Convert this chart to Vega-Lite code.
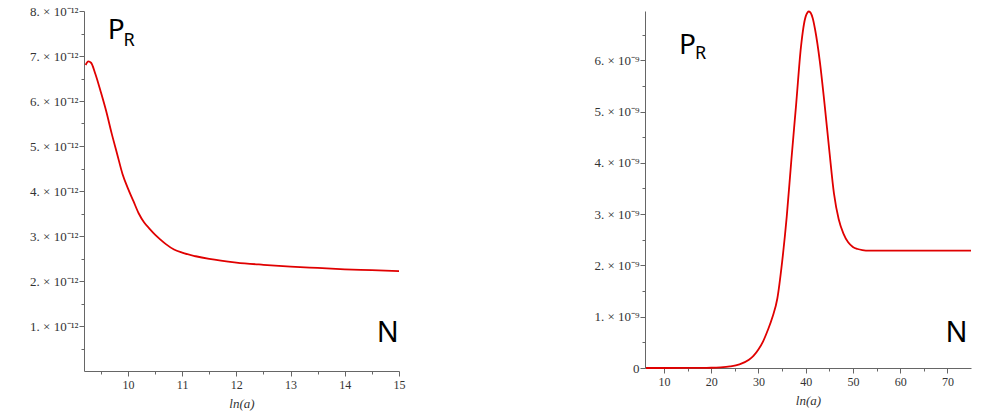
{
  "$schema": "https://vega.github.io/schema/vega-lite/v6.json",
  "background": "white",
  "padding": {"left": 29, "top": 5, "right": 5, "bottom": 5},
  "config": {
    "view": {"stroke": null},
    "axis": {
      "domainColor": "#666",
      "tickColor": "#666",
      "labelColor": "#333",
      "labelFont": "Liberation Serif",
      "labelFontSize": 13,
      "labelOverlap": false,
      "tickCount": 200,
      "titleFont": "Liberation Serif",
      "titleFontStyle": "italic",
      "titleFontWeight": "normal",
      "titleFontSize": 13,
      "titleColor": "#333",
      "grid": false
    },
    "axisX": {"labelFontSize": 12, "labelPadding": 3, "titlePadding": 7}
  },
  "spacing": 188,
  "hconcat": [
    {
      "width": 315,
      "height": 360,
      "layer": [
        {
          "data": {"values": [
            {"lna": 9.22, "P": 6.8e-12}, {"lna": 9.27, "P": 6.88e-12}, {"lna": 9.32, "P": 6.85e-12},
            {"lna": 9.4, "P": 6.6e-12}, {"lna": 9.5, "P": 6.2e-12}, {"lna": 9.6, "P": 5.77e-12},
            {"lna": 9.7, "P": 5.28e-12}, {"lna": 9.8, "P": 4.83e-12}, {"lna": 9.9, "P": 4.38e-12},
            {"lna": 10.0, "P": 4.06e-12}, {"lna": 10.1, "P": 3.78e-12}, {"lna": 10.2, "P": 3.5e-12},
            {"lna": 10.3, "P": 3.3e-12}, {"lna": 10.4, "P": 3.16e-12}, {"lna": 10.5, "P": 3.03e-12},
            {"lna": 10.6, "P": 2.92e-12}, {"lna": 10.7, "P": 2.82e-12}, {"lna": 10.85, "P": 2.7e-12},
            {"lna": 11.0, "P": 2.63e-12}, {"lna": 11.25, "P": 2.55e-12}, {"lna": 11.5, "P": 2.49e-12},
            {"lna": 12.0, "P": 2.41e-12}, {"lna": 12.5, "P": 2.36e-12}, {"lna": 13.0, "P": 2.32e-12},
            {"lna": 13.5, "P": 2.29e-12}, {"lna": 14.0, "P": 2.26e-12}, {"lna": 14.5, "P": 2.24e-12},
            {"lna": 15.0, "P": 2.22e-12}
          ]},
          "mark": {"type": "line", "color": "#e00000", "strokeWidth": 1.8, "interpolate": "monotone"},
          "encoding": {
            "x": {"field": "lna", "type": "quantitative", "title": "ln(a)",
              "scale": {"domain": [9.19, 15], "nice": false, "zero": false},
              "axis": {
                "values": [9.5, 10, 10.5, 11, 11.5, 12, 12.5, 13, 13.5, 14, 14.5, 15],
                "tickCount": 200,
                "labelExpr": "datum.value % 1 === 0 ? '' + datum.value : ' '",
                "tickSize": {"condition": {"test": "datum.value % 1 === 0", "value": 5}, "value": 3},
                "labelFlush": false
              }},
            "y": {"field": "P", "type": "quantitative", "title": null,
              "scale": {"domain": [0, 8e-12], "nice": false},
              "axis": {
                "values": [5e-13, 1e-12, 1.5e-12, 2e-12, 2.5e-12, 3e-12, 3.5e-12, 4e-12, 4.5e-12, 5e-12, 5.5e-12, 6e-12, 6.5e-12, 7e-12, 7.5e-12, 8e-12],
                "tickCount": 200,
                "labelExpr": "round(datum.value*2e12) % 2 === 0 ? round(datum.value*1e12) + '. × 10⁻¹²' : ' '",
                "tickSize": {"condition": {"test": "round(datum.value*2e12) % 2 === 0", "value": 5}, "value": 3},
                "labelPadding": 1, "labelFlush": false
              }}
          }
        },
        {
          "data": {"values": [
            {"lna": 9.63, "P": 7.38e-12, "t": "P", "s": 28},
            {"lna": 9.92, "P": 7.22e-12, "t": "R", "s": 18},
            {"lna": 14.59, "P": 0.65e-12, "t": "N", "s": 29}
          ]},
          "mark": {"type": "text", "align": "left", "baseline": "alphabetic", "font": "Noto Sans", "color": "black"},
          "encoding": {
            "x": {"field": "lna", "type": "quantitative"},
            "y": {"field": "P", "type": "quantitative"},
            "text": {"field": "t"},
            "size": {"field": "s", "type": "quantitative", "scale": null, "legend": null}
          }
        }
      ]
    },
    {
      "width": 326,
      "height": 357,
      "layer": [
        {
          "data": {"values": [
            {"lna": 6.2, "P": 0}, {"lna": 10, "P": 0}, {"lna": 15, "P": 0.002e-9}, {"lna": 20, "P": 0.005e-9},
            {"lna": 22, "P": 0.012e-9}, {"lna": 24, "P": 0.03e-9}, {"lna": 26, "P": 0.07e-9},
            {"lna": 28, "P": 0.16e-9}, {"lna": 29, "P": 0.24e-9}, {"lna": 30, "P": 0.36e-9},
            {"lna": 31, "P": 0.52e-9}, {"lna": 32, "P": 0.74e-9}, {"lna": 33, "P": 1.0e-9},
            {"lna": 34, "P": 1.35e-9}, {"lna": 35, "P": 2.05e-9}, {"lna": 36, "P": 2.95e-9},
            {"lna": 37, "P": 4.08e-9}, {"lna": 38, "P": 5.15e-9}, {"lna": 39, "P": 6.25e-9},
            {"lna": 40, "P": 6.85e-9}, {"lna": 40.7, "P": 6.95e-9}, {"lna": 41.5, "P": 6.82e-9},
            {"lna": 42, "P": 6.6e-9}, {"lna": 43, "P": 5.98e-9}, {"lna": 44, "P": 5.15e-9},
            {"lna": 45, "P": 4.25e-9}, {"lna": 46, "P": 3.4e-9}, {"lna": 47, "P": 2.9e-9},
            {"lna": 48, "P": 2.62e-9}, {"lna": 49, "P": 2.45e-9}, {"lna": 50, "P": 2.36e-9},
            {"lna": 51, "P": 2.32e-9}, {"lna": 52, "P": 2.3e-9}, {"lna": 53.5, "P": 2.29e-9},
            {"lna": 60, "P": 2.29e-9}, {"lna": 75, "P": 2.29e-9}
          ]},
          "mark": {"type": "line", "color": "#e00000", "strokeWidth": 1.8, "interpolate": "monotone"},
          "encoding": {
            "x": {"field": "lna", "type": "quantitative", "title": "ln(a)",
              "scale": {"domain": [6, 75], "nice": false, "zero": false},
              "axis": {
                "values": [10, 15, 20, 25, 30, 35, 40, 45, 50, 55, 60, 65, 70],
                "tickCount": 200,
                "labelExpr": "datum.value % 10 === 0 ? '' + datum.value : ' '",
                "tickSize": {"condition": {"test": "datum.value % 10 === 0", "value": 5}, "value": 3},
                "labelFlush": false
              }},
            "y": {"field": "P", "type": "quantitative", "title": null,
              "scale": {"domain": [0, 6.96e-9], "nice": false},
              "axis": {
                "values": [0, 5e-10, 1e-9, 1.5e-9, 2e-9, 2.5e-9, 3e-9, 3.5e-9, 4e-9, 4.5e-9, 5e-9, 5.5e-9, 6e-9, 6.5e-9],
                "tickCount": 200,
                "labelExpr": "datum.value === 0 ? '0' : (round(datum.value*2e9) % 2 === 0 ? round(datum.value*1e9) + '. × 10⁻⁹' : ' ')",
                "tickSize": {"condition": {"test": "round(datum.value*2e9) % 2 === 0", "value": 5}, "value": 3},
                "labelPadding": 1, "labelFlush": false
              }}
          }
        },
        {
          "data": {"values": [
            {"lna": 13.2, "P": 6.13e-9, "t": "P", "s": 28},
            {"lna": 16.6, "P": 6.02e-9, "t": "R", "s": 18},
            {"lna": 69.6, "P": 0.5e-9, "t": "N", "s": 29}
          ]},
          "mark": {"type": "text", "align": "left", "baseline": "alphabetic", "font": "Noto Sans", "color": "black"},
          "encoding": {
            "x": {"field": "lna", "type": "quantitative"},
            "y": {"field": "P", "type": "quantitative"},
            "text": {"field": "t"},
            "size": {"field": "s", "type": "quantitative", "scale": null, "legend": null}
          }
        }
      ]
    }
  ]
}
